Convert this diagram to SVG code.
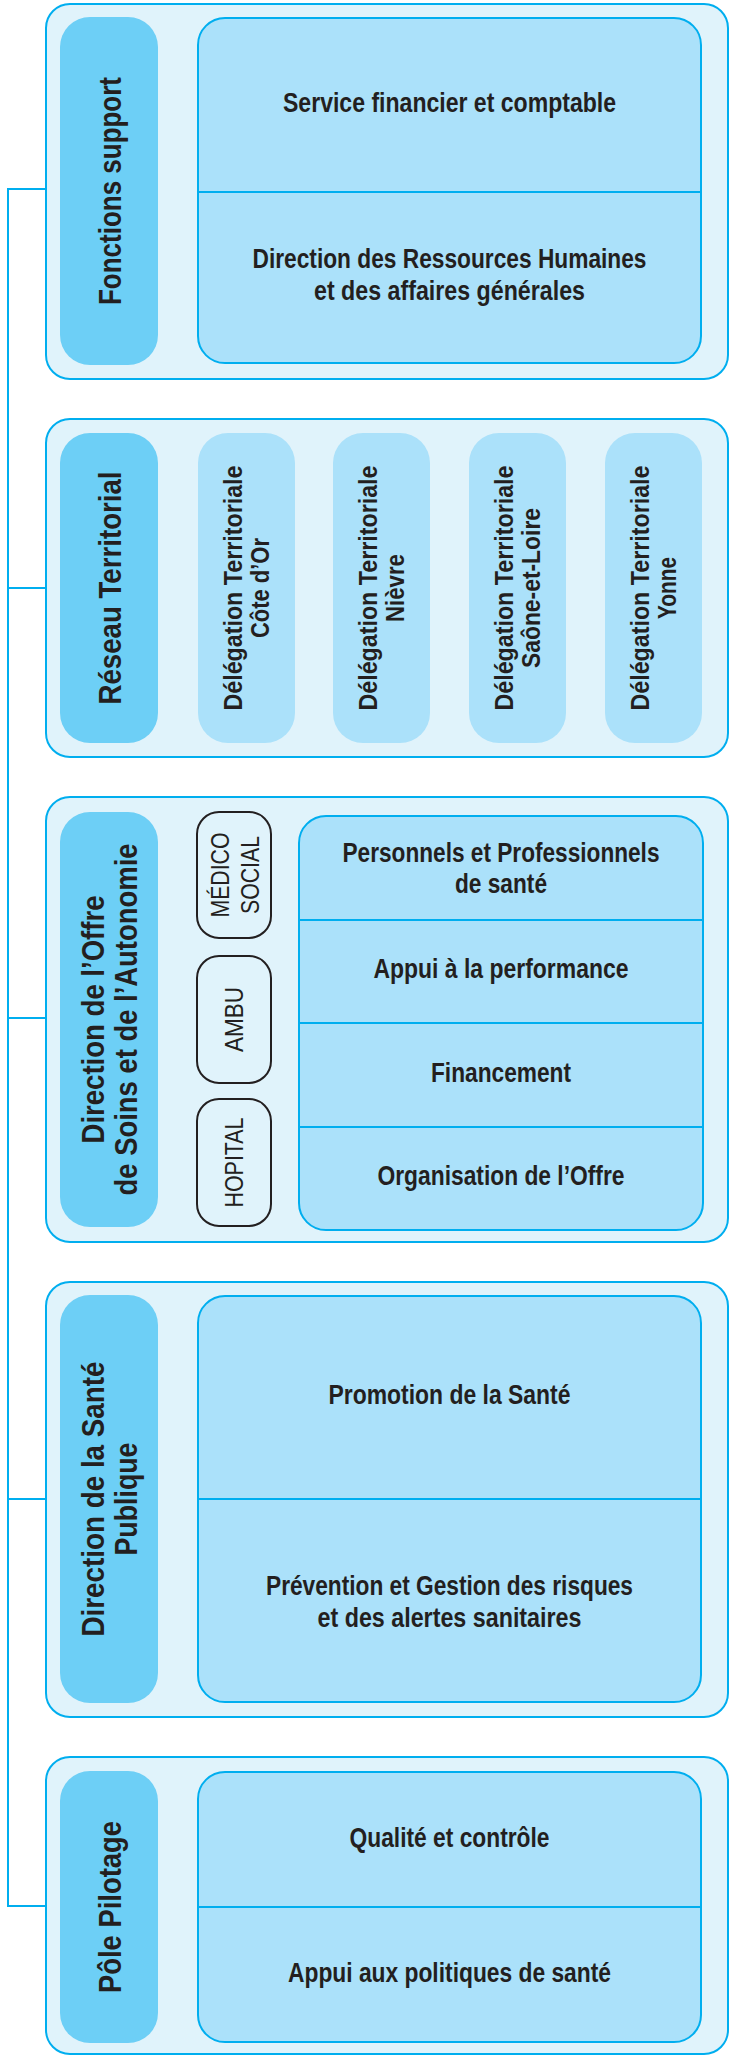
<svg xmlns="http://www.w3.org/2000/svg" width="730" height="2055" viewBox="0 0 730 2055">
<style>
.outer{fill:#e0f3fb;stroke:#00aeef;stroke-width:2}
.label{fill:#6dcff6}
.inner{fill:#abe1fa;stroke:#00aeef;stroke-width:2}
.deleg{fill:#abe1fa}
.tag{fill:none;stroke:#231f20;stroke-width:2}
.div{stroke:#00aeef;stroke-width:2}
.conn{fill:none;stroke:#00aeef;stroke-width:2}
text{fill:#231f20;text-anchor:middle}
.lt{font-family:"Liberation Sans",Arial,sans-serif;font-weight:bold;font-size:32px}
.dt{font-family:"Liberation Sans",Arial,sans-serif;font-weight:bold;font-size:25px}
.tt{font-family:"Liberation Sans",Arial,sans-serif;font-size:26px}
.ct{font-family:"Liberation Sans Narrow","Liberation Sans",Arial,sans-serif;font-weight:bold;font-size:27px}
</style>
<g id="connectors">
<path class="conn" d="M46,189 H8 V1906 H46"/>
<path class="conn" d="M8,588 H46"/>
<path class="conn" d="M8,1018 H46"/>
<path class="conn" d="M8,1499 H46"/>
</g>
<g id="fonctions-support">
<rect class="outer" x="46" y="4" width="682" height="375" rx="24"/>
<rect class="label" x="60" y="17" width="98" height="348" rx="30"/>
<text class="lt" transform="translate(121,191) rotate(-90)" textLength="228" lengthAdjust="spacingAndGlyphs">Fonctions support</text>
<rect class="inner" x="198" y="18" width="503" height="345" rx="27"/>
<line class="div" x1="198" y1="192" x2="701" y2="192"/>
<text class="ct" x="449.5" y="112" textLength="333" lengthAdjust="spacingAndGlyphs">Service financier et comptable</text>
<text class="ct" x="449.5" y="268" textLength="394" lengthAdjust="spacingAndGlyphs">Direction des Ressources Humaines</text>
<text class="ct" x="449.5" y="300" textLength="271" lengthAdjust="spacingAndGlyphs">et des affaires générales</text>
</g>
<g id="reseau-territorial">
<rect class="outer" x="46" y="419" width="682" height="338" rx="24"/>
<rect class="label" x="60" y="433" width="98" height="310" rx="30"/>
<text class="lt" transform="translate(121,588) rotate(-90)" textLength="233" lengthAdjust="spacingAndGlyphs">Réseau Territorial</text>
<g id="dt-cote-dor">
<rect class="deleg" x="198" y="433" width="97" height="310" rx="30"/>
<text class="dt" transform="translate(242,588) rotate(-90)" textLength="245" lengthAdjust="spacingAndGlyphs">Délégation Territoriale</text>
<text class="dt" transform="translate(269,588) rotate(-90)" textLength="100" lengthAdjust="spacingAndGlyphs">Côte d’Or</text>
</g>
<g id="dt-nievre">
<rect class="deleg" x="333" y="433" width="97" height="310" rx="30"/>
<text class="dt" transform="translate(377,588) rotate(-90)" textLength="245" lengthAdjust="spacingAndGlyphs">Délégation Territoriale</text>
<text class="dt" transform="translate(404,588) rotate(-90)" textLength="68" lengthAdjust="spacingAndGlyphs">Nièvre</text>
</g>
<g id="dt-saone-et-loire">
<rect class="deleg" x="469" y="433" width="97" height="310" rx="30"/>
<text class="dt" transform="translate(513,588) rotate(-90)" textLength="245" lengthAdjust="spacingAndGlyphs">Délégation Territoriale</text>
<text class="dt" transform="translate(540,588) rotate(-90)" textLength="160" lengthAdjust="spacingAndGlyphs">Saône-et-Loire</text>
</g>
<g id="dt-yonne">
<rect class="deleg" x="605" y="433" width="97" height="310" rx="30"/>
<text class="dt" transform="translate(649,588) rotate(-90)" textLength="245" lengthAdjust="spacingAndGlyphs">Délégation Territoriale</text>
<text class="dt" transform="translate(676,588) rotate(-90)" textLength="62" lengthAdjust="spacingAndGlyphs">Yonne</text>
</g>
</g>
<g id="dosa">
<rect class="outer" x="46" y="797" width="682" height="445" rx="24"/>
<rect class="label" x="60" y="812" width="98" height="415" rx="30"/>
<text class="lt" transform="translate(104,1019.5) rotate(-90)" textLength="248" lengthAdjust="spacingAndGlyphs">Direction de l’Offre</text>
<text class="lt" transform="translate(137,1019.5) rotate(-90)" textLength="352" lengthAdjust="spacingAndGlyphs">de Soins et de l’Autonomie</text>
<g id="tag-medico-social">
<rect class="tag" x="197" y="812" width="74" height="126" rx="22"/>
<text class="tt" transform="translate(229,875) rotate(-90)" textLength="85" lengthAdjust="spacingAndGlyphs">MÉDICO</text>
<text class="tt" transform="translate(259,875) rotate(-90)" textLength="78" lengthAdjust="spacingAndGlyphs">SOCIAL</text>
</g>
<g id="tag-ambu">
<rect class="tag" x="197" y="956" width="74" height="127" rx="22"/>
<text class="tt" transform="translate(243,1019.5) rotate(-90)" textLength="65" lengthAdjust="spacingAndGlyphs">AMBU</text>
</g>
<g id="tag-hopital">
<rect class="tag" x="197" y="1099" width="74" height="127" rx="22"/>
<text class="tt" transform="translate(243,1162.5) rotate(-90)" textLength="90" lengthAdjust="spacingAndGlyphs">HOPITAL</text>
</g>
<rect class="inner" x="299" y="816" width="404" height="414" rx="27"/>
<line class="div" x1="299" y1="920" x2="703" y2="920"/>
<line class="div" x1="299" y1="1023" x2="703" y2="1023"/>
<line class="div" x1="299" y1="1127" x2="703" y2="1127"/>
<text class="ct" x="501" y="862" textLength="317" lengthAdjust="spacingAndGlyphs">Personnels et Professionnels</text>
<text class="ct" x="501" y="893" textLength="92" lengthAdjust="spacingAndGlyphs">de santé</text>
<text class="ct" x="501" y="978" textLength="255" lengthAdjust="spacingAndGlyphs">Appui à la performance</text>
<text class="ct" x="501" y="1082" textLength="140" lengthAdjust="spacingAndGlyphs">Financement</text>
<text class="ct" x="501" y="1185" textLength="247" lengthAdjust="spacingAndGlyphs">Organisation de l’Offre</text>
</g>
<g id="sante-publique">
<rect class="outer" x="46" y="1282" width="682" height="435" rx="24"/>
<rect class="label" x="60" y="1295" width="98" height="408" rx="30"/>
<text class="lt" transform="translate(104,1499) rotate(-90)" textLength="275" lengthAdjust="spacingAndGlyphs">Direction de la Santé</text>
<text class="lt" transform="translate(137,1499) rotate(-90)" textLength="113" lengthAdjust="spacingAndGlyphs">Publique</text>
<rect class="inner" x="198" y="1296" width="503" height="406" rx="27"/>
<line class="div" x1="198" y1="1499" x2="701" y2="1499"/>
<text class="ct" x="449.5" y="1404" textLength="242" lengthAdjust="spacingAndGlyphs">Promotion de la Santé</text>
<text class="ct" x="449.5" y="1595" textLength="367" lengthAdjust="spacingAndGlyphs">Prévention et Gestion des risques</text>
<text class="ct" x="449.5" y="1627" textLength="264" lengthAdjust="spacingAndGlyphs">et des alertes sanitaires</text>
</g>
<g id="pole-pilotage">
<rect class="outer" x="46" y="1757" width="682" height="297" rx="24"/>
<rect class="label" x="60" y="1771" width="98" height="272" rx="30"/>
<text class="lt" transform="translate(121,1907) rotate(-90)" textLength="172" lengthAdjust="spacingAndGlyphs">Pôle Pilotage</text>
<rect class="inner" x="198" y="1772" width="503" height="270" rx="27"/>
<line class="div" x1="198" y1="1907" x2="701" y2="1907"/>
<text class="ct" x="449.5" y="1847" textLength="200" lengthAdjust="spacingAndGlyphs">Qualité et contrôle</text>
<text class="ct" x="449.5" y="1982" textLength="323" lengthAdjust="spacingAndGlyphs">Appui aux politiques de santé</text>
</g>
</svg>
